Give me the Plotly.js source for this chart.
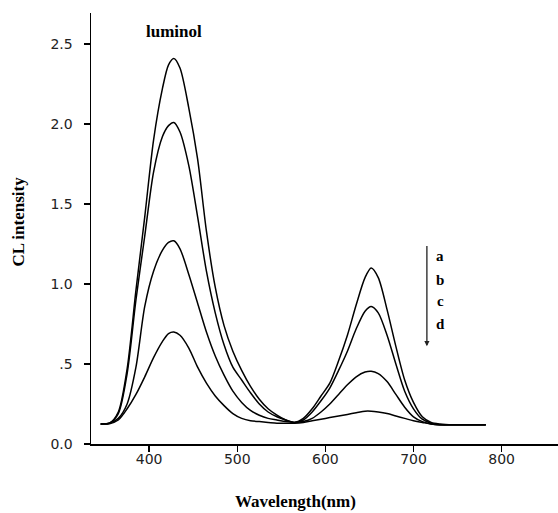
<!DOCTYPE html>
<html>
<head>
<meta charset="utf-8">
<script src="https://cdn.plot.ly/plotly-3.0.1.min.js"></script>
<style>html,body{margin:0;padding:0;background:#fff;}#chart{width:558px;height:513px;}</style>
</head>
<body>
<div id="chart"></div>
<script>
const wavelength = [345,355,365,375,385,395,405,415,422,428,435,445,455,465,475,485,495,505,515,525,535,545,555,565,575,585,595,605,615,625,635,645,652,660,670,680,690,700,710,720,730,745,760,782];
const curveA = [0.125,0.13,0.20,0.47,0.96,1.42,1.90,2.22,2.37,2.41,2.35,2.10,1.78,1.33,0.98,0.74,0.58,0.46,0.36,0.28,0.22,0.18,0.15,0.135,0.16,0.22,0.30,0.38,0.52,0.68,0.87,1.04,1.10,1.04,0.84,0.61,0.40,0.26,0.17,0.135,0.125,0.12,0.12,0.12];
const curveB = [0.125,0.13,0.19,0.44,0.90,1.30,1.70,1.92,1.99,2.01,1.95,1.74,1.42,1.08,0.82,0.62,0.48,0.40,0.32,0.25,0.20,0.17,0.15,0.135,0.15,0.20,0.27,0.35,0.46,0.58,0.72,0.83,0.86,0.82,0.68,0.50,0.33,0.22,0.155,0.13,0.12,0.12,0.12,0.12];
const curveC = [0.125,0.13,0.16,0.25,0.48,0.86,1.08,1.21,1.26,1.27,1.22,1.06,0.88,0.70,0.55,0.43,0.33,0.26,0.21,0.18,0.16,0.15,0.14,0.135,0.14,0.16,0.20,0.25,0.31,0.37,0.42,0.45,0.455,0.44,0.39,0.31,0.23,0.17,0.14,0.125,0.12,0.12,0.12,0.12];
const curveD = [0.125,0.127,0.15,0.22,0.31,0.42,0.54,0.64,0.69,0.70,0.68,0.60,0.48,0.38,0.30,0.24,0.19,0.16,0.145,0.14,0.135,0.13,0.13,0.13,0.135,0.145,0.155,0.165,0.175,0.185,0.195,0.205,0.205,0.20,0.19,0.175,0.16,0.145,0.135,0.125,0.12,0.12,0.12,0.12];
const seriesNames = ['a','b','c','d'];
const xTickVals = [400,500,600,700,800];
const xTickText = ['400','500','600','700','800'];
const yTickVals = [0,0.5,1.0,1.5,2.0,2.5];
const yTickText = ['0.0','.5','1.0','1.5','2.0','2.5'];

const allCurves = [curveA, curveB, curveC, curveD];
const traces = allCurves.map((ys, i) => ({
  x: wavelength, y: ys, type: 'scatter', mode: 'lines', name: seriesNames[i],
  line: {color: '#000', width: 1.5, shape: 'spline', smoothing: 0.8},
  hoverinfo: 'skip'
}));

const serif = '"Liberation Serif", "Times New Roman", serif';
const letterYs = [1.174, 1.028, 0.893, 0.747];
const annotations = [
  {x: 428.4, y: 2.578, xref: 'x', yref: 'y', text: '<b>luminol</b>', showarrow: false,
   xanchor: 'center', yanchor: 'middle', font: {family: serif, size: 17, color: '#000'}},
  {x: 715.2, y: 0.611, ax: 715.2, ay: 1.247, xref: 'x', yref: 'y', axref: 'x', ayref: 'y',
   text: '', showarrow: true, arrowhead: 2, arrowsize: 0.8, arrowwidth: 1.3, arrowcolor: '#222'},
  {x: 0.5, y: -0.134, xref: 'paper', yref: 'paper', xshift: -29, xanchor: 'center', yanchor: 'middle',
   text: '<b>Wavelength(nm)</b>', showarrow: false, font: {family: serif, size: 17, color: '#000'}},
  {x: 0, y: 0.516, xref: 'paper', yref: 'paper', xshift: -72, xanchor: 'center', yanchor: 'middle',
   textangle: -90, text: '<b>CL intensity</b>', showarrow: false, font: {family: serif, size: 17, color: '#000'}}
];
seriesNames.forEach((n, i) => annotations.push({
  x: 730.3, y: letterYs[i], xref: 'x', yref: 'y', text: '<b>' + n + '</b>', showarrow: false,
  xanchor: 'center', yanchor: 'middle', font: {family: serif, size: 15, color: '#000'}
}));

const tickFont = {family: '"DejaVu Sans", "Liberation Sans", sans-serif', size: 14, color: '#222'};
const layout = {
  width: 558, height: 513,
  margin: {l: 91, r: 0, t: 13, b: 69},
  paper_bgcolor: '#fff', plot_bgcolor: '#fff',
  showlegend: false,
  xaxis: {
    range: [334, 864], showgrid: false, zeroline: false,
    showline: true, linecolor: '#000', linewidth: 1.5,
    ticks: 'outside', ticklen: 6, tickwidth: 1.5, tickcolor: '#000',
    tickvals: xTickVals, ticktext: xTickText, tickfont: tickFont,
    ticklabelstandoff: -4
  },
  yaxis: {
    range: [0, 2.694], showgrid: false, zeroline: false,
    showline: true, linecolor: '#000', linewidth: 1.5,
    ticks: 'outside', ticklen: 6, tickwidth: 1.5, tickcolor: '#000',
    tickvals: yTickVals, ticktext: yTickText, tickfont: tickFont,
    ticklabelstandoff: 8
  },
  annotations: annotations
};
Plotly.newPlot('chart', traces, layout, {staticPlot: true, displayModeBar: false});
</script>
</body>
</html>
